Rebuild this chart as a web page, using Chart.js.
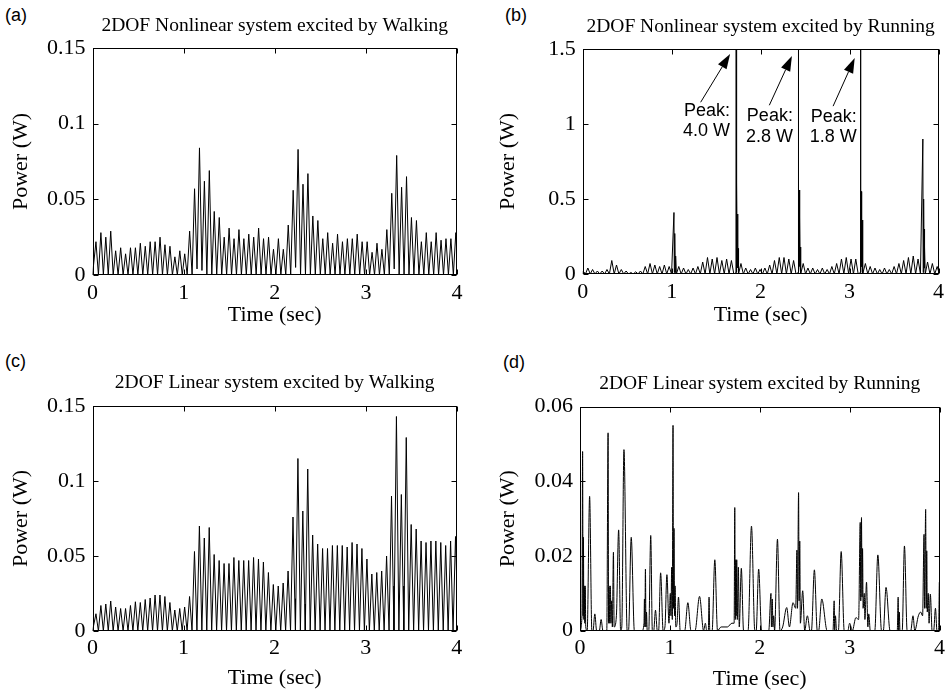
<!DOCTYPE html>
<html><head><meta charset="utf-8">
<script src="https://cdn.jsdelivr.net/npm/chart.js@4.4.1/dist/chart.umd.min.js"></script>
<style>
html,body{margin:0;padding:0;background:#fff;width:949px;height:694px;overflow:hidden;position:relative;}
canvas{position:absolute;}
.lbl{position:absolute;font-family:"Liberation Sans",Arial,sans-serif;font-size:18px;line-height:20px;color:#000;}
</style></head><body>
<div class="lbl" style="left:5px;top:5px">(a)</div>
<div class="lbl" style="left:505px;top:5px">(b)</div>
<div class="lbl" style="left:5px;top:351px">(c)</div>
<div class="lbl" style="left:503px;top:352px">(d)</div>
<canvas id="ca" style="left:0;top:0" width="474" height="340"></canvas>
<canvas id="cb" style="left:474px;top:0" width="475" height="340"></canvas>
<canvas id="cc" style="left:0;top:340px" width="474" height="354"></canvas>
<canvas id="cd" style="left:474px;top:340px" width="475" height="354"></canvas>
<script>
// ---------- tick values / labels ----------
const xTicks = [0, 1, 2, 3, 4];
const xTickLabels = ['0', '1', '2', '3', '4'];
const yTicksWalk = [0, 0.05, 0.1, 0.15];
const yLabelsWalk = ['0', '0.05', '0.1', '0.15'];
const yTicksRunNL = [0, 0.5, 1, 1.5];
const yLabelsRunNL = ['0', '0.5', '1', '1.5'];
const yTicksRunL = [0, 0.02, 0.04, 0.06];
const yLabelsRunL = ['0', '0.02', '0.04', '0.06'];

// ---------- walking excitation: peak / trough instants (s) ----------
const walkPeakTimes = [0.038,0.092,0.146,0.200,0.254,0.309,0.363,0.417,0.471,0.525,0.579,0.633,0.687,0.741,0.795,0.850,0.904,0.958,1.012,1.066,1.120,1.174,1.228,1.282,1.336,1.391,1.445,1.499,1.553,1.607,1.661,1.715,1.769,1.823,1.877,1.932,1.986,2.040,2.094,2.148,2.202,2.256,2.310,2.364,2.418,2.473,2.527,2.581,2.635,2.689,2.743,2.797,2.851,2.905,2.959,3.014,3.068,3.122,3.176,3.230,3.284,3.338,3.392,3.446,3.500,3.555,3.609,3.663,3.717,3.771,3.825,3.879,3.933,3.987];
const walkTroughTimes = [0.000,0.065,0.119,0.173,0.227,0.281,0.336,0.390,0.444,0.498,0.552,0.606,0.660,0.714,0.768,0.822,0.877,0.931,0.985,1.039,1.093,1.147,1.201,1.255,1.309,1.363,1.418,1.472,1.526,1.580,1.634,1.688,1.742,1.796,1.850,1.904,1.959,2.013,2.067,2.121,2.175,2.229,2.283,2.337,2.391,2.445,2.500,2.554,2.608,2.662,2.716,2.770,2.824,2.878,2.932,2.986,3.041,3.095,3.149,3.203,3.257,3.311,3.365,3.419,3.473,3.527,3.582,3.636,3.690,3.744,3.798,3.852,3.906,3.960,4.000];

// (a) 2DOF Nonlinear, Walking
const peakPowerA = [0.022,0.028,0.025,0.029,0.016,0.018,0.014,0.018,0.018,0.021,0.019,0.022,0.022,0.025,0.020,0.019,0.012,0.016,0.014,0.029,0.057,0.084,0.062,0.069,0.042,0.038,0.025,0.031,0.024,0.030,0.024,0.027,0.025,0.031,0.024,0.025,0.017,
  0.024,0.017,0.033,0.056,0.083,0.060,0.067,0.039,0.036,0.024,0.028,0.021,0.027,0.022,0.024,0.024,0.027,0.022,0.022,0.015,0.021,0.017,0.030,0.054,0.079,0.058,0.065,0.038,0.036,0.022,0.028,0.022,0.028,0.023,0.024,0.024,0.028];
const troughPowerA = [0,0,0,0,0,0,0,0,0,0,0,0,0,0,0,0,0,0,0,0,0,0.004,0.003,0,0,0,0,0,0,0,0,0,0,0,0,0,0,0,0,0,0,0.005,0,0,0,0,0,0,0,0,0,0,0,0,0,0,0,0,0,0,0,0.004,0,0,0,0,0,0,0,0,0,0,0,0,0.012];

// (c) 2DOF Linear, Walking
const peakPowerC = [0.0115,0.017,0.018,0.020,0.016,0.015,0.015,0.017,0.0195,0.019,0.021,0.022,0.024,0.024,0.023,0.019,0.014,0.015,0.016,0.023,0.053,0.070,0.062,0.069,0.051,0.047,0.045,0.045,0.049,0.047,0.047,0.047,0.049,0.048,0.046,0.039,0.031,
  0.030,0.032,0.040,0.076,0.115,0.080,0.108,0.064,0.058,0.055,0.055,0.057,0.057,0.057,0.056,0.059,0.058,0.055,0.048,0.038,0.039,0.040,0.050,0.090,0.143,0.091,0.129,0.071,0.068,0.060,0.059,0.060,0.060,0.059,0.057,0.060,0.063];
const troughPowerC = [0,0,0,0,0,0,0,0,0,0,0,0,0,0,0,0,0,0,0,0,0,0,0,0,0,0,0,0,0,0,0,0,0,0,0,0,0,0,0,0,0,0,0,0,0,0,0,0,0,0,0,0,0,0,0,0,0,0,0,0,0,0,0,0,0,0,0,0,0,0,0,0,0,0,0.035];
const spikeTimesC = [2.229,2.229,2.337,2.337,3.311,3.311,3.419,3.419];
const spikePowerC = [0.0215,0,0.018,0,0.030,0,0.030,0];

// (b) 2DOF Nonlinear, Running
const runPeakTimesB = [0.004,0.058,0.111,0.165,0.219,0.273,0.327,0.380,0.434,0.488,0.542,0.596,0.649,0.703,0.757,0.811,0.865,0.918,0.972,1.026,1.080,1.134,1.187,1.241,1.295,1.349,1.403,1.456,1.510,1.564,1.618,1.672,1.725,1.779,1.833,1.887,1.941,1.994,2.048,2.102,2.156,2.210,2.263,2.317,2.371,2.425,2.479,2.532,2.586,2.640,2.694,2.748,2.801,2.855,2.909,2.963,3.017,3.070,3.124,3.178,3.232,3.286,3.339,3.393,3.447,3.501,3.555,3.608,3.662,3.716,3.770,3.824,3.877,3.931,3.985];
const runPeakPowerB = [0.02,0.04,0.03,0.02,0.02,0.03,0.09,0.06,0.03,0.02,0.01,0.015,0.02,0.05,0.07,0.06,0.05,0.06,0.05,0.41,0.05,0.04,0.03,0.04,0.05,0.08,0.11,0.10,0.11,0.09,0.10,0.09,4.0,0.07,0.04,0.03,0.04,0.03,0.04,0.06,0.09,0.11,0.11,0.10,0.09,2.8,0.07,0.04,0.04,0.03,0.04,0.03,0.05,0.07,0.10,0.11,0.10,0.10,1.8,0.07,0.05,0.04,0.03,0.04,0.03,0.05,0.07,0.09,0.11,0.12,0.10,0.90,0.08,0.07,0.05];
const runTroughTimesB = [0.000,0.031,0.085,0.138,0.192,0.246,0.300,0.354,0.407,0.461,0.515,0.569,0.623,0.676,0.730,0.784,0.838,0.892,0.945,0.999,1.053,1.107,1.161,1.214,1.268,1.322,1.376,1.430,1.483,1.537,1.591,1.645,1.699,1.752,1.806,1.860,1.914,1.968,2.021,2.075,2.129,2.183,2.237,2.290,2.344,2.398,2.452,2.506,2.559,2.613,2.667,2.721,2.775,2.828,2.882,2.936,2.990,3.044,3.097,3.151,3.205,3.259,3.313,3.366,3.420,3.474,3.528,3.582,3.635,3.689,3.743,3.797,3.851,3.904,3.958,4.000];
const runTroughPowerB = [0,0,0,0,0,0,0,0,0,0,0,0,0,0,0,0,0,0,0,0,0,0,0,0,0,0,0,0,0,0,0,0,0,0,0,0,0,0,0,0,0,0,0,0,0,0,0,0,0,0,0,0,0,0,0,0,0,0,0,0,0,0,0,0,0,0,0,0,0,0,0,0,0,0,0,0.02];
const afterShockTimesB = [1.030,1.035,1.040,1.045,
  1.723,1.727,1.733,1.737,1.741,1.745,1.749,
  2.423,2.427,2.433,2.437,2.441,2.445,2.449,
  3.122,3.126,3.132,3.136,3.140,3.144,3.148,
  3.828,3.833,3.837,3.841,3.845];
const afterShockPowerB = [0.01,0.27,0.01,0.12,
  0.01,0.01,0.61,0.05,0.40,0.04,0.17,
  0.01,0.01,0.56,0.05,0.38,0.04,0.18,
  0.01,0.01,0.55,0.05,0.36,0.04,0.18,
  0.01,0.50,0.04,0.30,0.18];
const peakNoteText = ['4.0 W', '2.8 W', '1.8 W'];

// (d) 2DOF Linear, Running
const timeD = [0.000,0.022,0.029,0.034,0.038,0.043,0.048,0.053,0.058,0.064,0.080,0.107,0.132,0.145,0.165,0.185,0.215,0.235,0.255,0.298,0.3125,0.318,0.324,0.330,0.338,0.344,0.352,0.360,0.372,0.380,0.405,0.430,0.452,0.465,0.489,0.525,0.540,0.570,0.605,0.690,0.712,0.717,0.722,0.728,0.734,0.740,0.748,0.765,0.787,0.805,0.820,0.840,0.860,0.875,0.897,0.925,0.945,0.967,0.990,1.005,1.012,1.020,1.027,1.035,1.040,1.046,1.052,1.058,1.066,1.080,1.096,1.115,1.165,1.200,1.235,1.280,1.330,1.375,1.395,1.410,1.428,1.436,1.444,1.470,1.500,1.530,1.570,1.640,1.690,1.715,1.722,1.728,1.733,1.738,1.744,1.750,1.762,1.772,1.795,1.820,1.870,1.908,1.945,1.960,1.988,2.020,2.100,2.125,2.130,2.140,2.146,2.155,2.165,2.197,2.225,2.255,2.300,2.330,2.370,2.400,2.414,2.420,2.432,2.438,2.445,2.452,2.478,2.500,2.530,2.560,2.575,2.608,2.640,2.655,2.690,2.750,2.815,2.828,2.834,2.842,2.855,2.875,2.906,2.940,2.980,3.000,3.030,3.070,3.100,3.118,3.124,3.132,3.138,3.144,3.150,3.163,3.170,3.188,3.203,3.213,3.230,3.280,3.314,3.355,3.375,3.405,3.450,3.530,3.540,3.546,3.553,3.560,3.585,3.610,3.640,3.680,3.705,3.725,3.765,3.790,3.812,3.828,3.834,3.846,3.852,3.858,3.864,3.875,3.884,3.898,3.918,3.935,3.955,3.972,3.990,3.998];
const powerD = [0.000,0.004,0.048,0.004,0.025,0.003,0.012,0.002,0.012,0.001,0.000,0.036,0.000,0.000,0.0045,0.000,0.000,0.003,0.000,0.000,0.053,0.002,0.012,0.002,0.012,0.002,0.008,0.001,0.021,0.001,0.004,0.027,0.000,0.001,0.0485,0.000,0.000,0.025,0.000,0.000,0.002,0.0085,0.001,0.0165,0.001,0.005,0.000,0.000,0.0255,0.000,0.000,0.0055,0.000,0.000,0.0155,0.000,0.001,0.015,0.002,0.010,0.004,0.017,0.003,0.055,0.006,0.0274,0.004,0.012,0.001,0.002,0.009,0.000,0.000,0.0075,0.000,0.000,0.0092,0.000,0.002,0.000,0.000,0.009,0.000,0.000,0.019,0.000,0.001,0.001,0.002,0.002,0.033,0.003,0.019,0.004,0.019,0.003,0.017,0.001,0.0167,0.000,0.000,0.028,0.000,0.000,0.0165,0.000,0.000,0.010,0.001,0.0085,0.001,0.004,0.000,0.0245,0.000,0.001,0.0062,0.001,0.0075,0.006,0.0216,0.006,0.037,0.008,0.024,0.002,0.0107,0.000,0.004,0.000,0.000,0.0163,0.000,0.000,0.0085,0.000,0.000,0.008,0.000,0.004,0.000,0.000,0.0212,0.000,0.000,0.002,0.000,0.0035,0.003,0.029,0.008,0.0303,0.009,0.022,0.006,0.010,0.003,0.013,0.001,0.0045,0.000,0.000,0.0203,0.000,0.000,0.0116,0.000,0.000,0.009,0.000,0.005,0.000,0.000,0.0227,0.000,0.000,0.004,0.000,0.004,0.005,0.004,0.0258,0.006,0.0325,0.006,0.0214,0.005,0.010,0.002,0.0098,0.000,0.000,0.006,0.000,0.000,0.013];

// ---------- helpers ----------
function pairs(t, v) { return t.map((x, i) => ({ x: x, y: v[i] })); }
function merged(...parts) { return [].concat(...parts).sort((a, b) => a.x - b.x); }

const SERIF = '"Liberation Serif", "Times New Roman", serif';
const SANS = '"Liberation Sans", Arial, sans-serif';

const framePlugin = {
  id: 'frame',
  afterDraw(chart, args, opts) {
    const { ctx, chartArea: a, scales: { x, y } } = chart;
    ctx.save();
    ctx.strokeStyle = '#000';
    ctx.lineWidth = 1;
    const L = Math.round(a.left) + 0.5, R = Math.round(a.right) - 0.5;
    const T = Math.round(a.top) + 0.5, B = Math.round(a.bottom) - 0.5;
    ctx.strokeRect(L, T, R - L, B - T);
    ctx.beginPath();
    x.ticks.forEach(t => {
      const p = Math.round(x.getPixelForValue(t.value)) + 0.5;
      ctx.moveTo(p, B); ctx.lineTo(p, B - 5);
      ctx.moveTo(p, T); ctx.lineTo(p, T + 5);
    });
    y.ticks.forEach(t => {
      const p = Math.round(y.getPixelForValue(t.value)) + 0.5;
      ctx.moveTo(L, p); ctx.lineTo(L + 5, p);
      ctx.moveTo(R, p); ctx.lineTo(R - 5, p);
    });
    ctx.stroke();
    ctx.fillStyle = '#000';
    ctx.font = '19.5px ' + SERIF;
    ctx.textAlign = 'center';
    ctx.textBaseline = 'middle';
    ctx.fillText(opts.title, (a.left + a.right) / 2, a.top - opts.titleGap);
    (opts.notes || []).forEach(n => {
      const tx = x.getPixelForValue(n.tail[0]), ty = y.getPixelForValue(n.tail[1]);
      const hx = x.getPixelForValue(n.tip[0]), hy = y.getPixelForValue(n.tip[1]);
      const ang = Math.atan2(hy - ty, hx - tx);
      const hl = 15, hw = 5;
      const bx = hx - hl * Math.cos(ang), by = hy - hl * Math.sin(ang);
      ctx.beginPath();
      ctx.moveTo(tx, ty); ctx.lineTo(bx, by);
      ctx.stroke();
      ctx.beginPath();
      ctx.moveTo(hx, hy);
      ctx.lineTo(bx + hw * Math.sin(ang), by - hw * Math.cos(ang));
      ctx.lineTo(bx - hw * Math.sin(ang), by + hw * Math.cos(ang));
      ctx.closePath();
      ctx.fill();
      ctx.font = '18px ' + SANS;
      ctx.textAlign = 'right';
      ctx.textBaseline = 'middle';
      const rx = x.getPixelForValue(n.textX);
      ctx.fillText('Peak:', rx, y.getPixelForValue(n.y1));
      ctx.fillText(n.text, rx, y.getPixelForValue(n.y2));
    });
    ctx.restore();
  }
};

function makePanel(id, c) {
  return new Chart(document.getElementById(id), {
    type: 'line',
    data: { datasets: [{
      data: c.points, borderColor: '#000', borderWidth: 1, pointRadius: 0,
      tension: 0, cubicInterpolationMode: c.mono ? 'monotone' : 'default', fill: false
    }] },
    options: {
      responsive: false, animation: false, events: [], devicePixelRatio: 1,
      layout: { padding: c.pad },
      plugins: {
        legend: { display: false }, tooltip: { enabled: false }, title: { display: false },
        frame: { title: c.title, titleGap: c.titleGap, notes: c.notes || [] }
      },
      scales: {
        x: {
          type: 'linear', min: 0, max: 4,
          afterFit(s) { s.height = c.xh; },
          afterBuildTicks(s) { s.ticks = xTicks.map(v => ({ value: v })); },
          ticks: { callback: (v, i) => xTickLabels[i], font: { family: SERIF, size: 22 }, color: '#000', padding: c.xtickPad, maxRotation: 0, autoSkip: false },
          grid: { display: false, drawTicks: false }, border: { display: false },
          title: { display: true, text: 'Time (sec)', font: { family: SERIF, size: 22 }, color: '#000', padding: { top: 0, bottom: c.xTitlePad } }
        },
        y: {
          type: 'linear', min: 0, max: c.ymax,
          afterFit(s) { s.width = c.yw; },
          afterBuildTicks(s) { s.ticks = c.yticks.map(v => ({ value: v })); },
          ticks: { callback: (v, i) => c.ylabels[i], font: { family: SERIF, size: 22 }, color: '#000', padding: 7, autoSkip: false },
          grid: { display: false, drawTicks: false }, border: { display: false },
          title: { display: true, text: 'Power (W)', font: { family: SERIF, size: 22 }, color: '#000', padding: { top: c.yTitlePad, bottom: 0 } }
        }
      }
    },
    plugins: [framePlugin]
  });
}

makePanel('ca', {
  points: merged(pairs(walkTroughTimes, troughPowerA), pairs(walkPeakTimes, peakPowerA)),
  title: '2DOF Nonlinear system excited by Walking', titleGap: 22,
  pad: { left: 0, right: 17, top: 48, bottom: 5 }, xh: 60, yw: 92.5,
  xtickPad: 5, xTitlePad: 6.8, yTitlePad: 8.5,
  ymax: 0.15, yticks: yTicksWalk, ylabels: yLabelsWalk
});

makePanel('cb', {
  points: merged(pairs(runTroughTimesB, runTroughPowerB), pairs(runPeakTimesB, runPeakPowerB), pairs(afterShockTimesB, afterShockPowerB)),
  title: '2DOF Nonlinear system excited by Running', titleGap: 22,
  pad: { left: 0, right: 4, top: 49, bottom: 6 }, xh: 60, yw: 108.7,
  xtickPad: 5, xTitlePad: 5.8, yTitlePad: 21.3,
  ymax: 1.5, yticks: yTicksRunNL, ylabels: yLabelsRunNL,
  notes: [
    { tail: [1.326, 1.145], tip: [1.657, 1.467], textX: 1.657, y1: 1.085, y2: 0.951, text: peakNoteText[0] },
    { tail: [2.098, 1.125], tip: [2.352, 1.453], textX: 2.363, y1: 1.052, y2: 0.911, text: peakNoteText[1] },
    { tail: [2.815, 1.119], tip: [3.058, 1.440], textX: 3.080, y1: 1.045, y2: 0.911, text: peakNoteText[2] }
  ]
});

makePanel('cc', {
  points: merged(pairs(walkTroughTimes, troughPowerC), pairs(walkPeakTimes, peakPowerC), pairs(spikeTimesC, spikePowerC)),
  title: '2DOF Linear system excited by Walking', titleGap: 23,
  pad: { left: 0, right: 17.3, top: 66, bottom: 2 }, xh: 61, yw: 92.5,
  xtickPad: 4, xTitlePad: 0.8, yTitlePad: 8.5,
  ymax: 0.15, yticks: yTicksWalk, ylabels: yLabelsWalk
});

makePanel('cd', {
  points: pairs(timeD, powerD), mono: true,
  title: '2DOF Linear system excited by Running', titleGap: 23,
  pad: { left: 0, right: 5, top: 66.7, bottom: 2 }, xh: 61.3, yw: 106,
  xtickPad: 4, xTitlePad: 0, yTitlePad: 21.5,
  ymax: 0.06, yticks: yTicksRunL, ylabels: yLabelsRunL
});
</script>
</body></html>
